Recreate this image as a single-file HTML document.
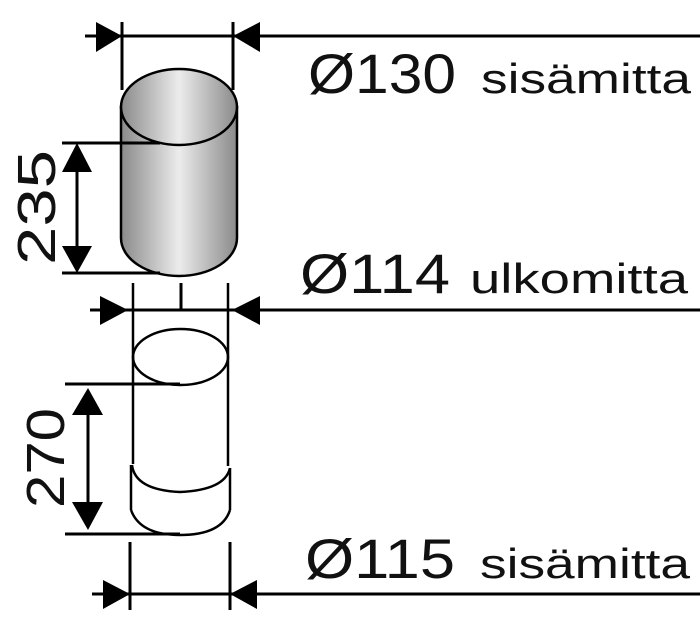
<!DOCTYPE html>
<html><head><meta charset="utf-8"><style>
html,body{margin:0;padding:0;background:#fff}
svg{display:block}
text{font-family:"Liberation Sans",sans-serif;fill:#111}
</style></head><body>
<svg width="700" height="632" viewBox="0 0 700 632" xmlns="http://www.w3.org/2000/svg">
<defs>
<linearGradient id="g" x1="0" x2="1" y1="0" y2="0">
<stop offset="0" stop-color="#8a8a8a"/>
<stop offset="0.5" stop-color="#ececec"/>
<stop offset="1" stop-color="#8a8a8a"/>
</linearGradient>
</defs>
<g stroke="#000" stroke-width="3" fill="none">
<!-- top dim -->
<line x1="85" y1="36" x2="700" y2="36"/>
<line x1="122" y1="22" x2="122" y2="90"/>
<line x1="233" y1="22" x2="233" y2="90"/>
</g>
<polygon points="96,22 122,36 96,52" fill="#000"/>
<polygon points="260,22 233,36 260,52" fill="#000"/>
<!-- cylinder 1 -->
<path d="M121,107 L121,238 A58,38 0 0 0 237,238 L237,107 Z" fill="url(#g)" stroke="#000" stroke-width="2.5"/>
<ellipse cx="179" cy="107" rx="58" ry="38" fill="url(#g)" stroke="#000" stroke-width="2.5"/>
<g stroke="#000" stroke-width="3" fill="none">
<line x1="62" y1="143" x2="160" y2="143"/>
<line x1="62" y1="273" x2="160" y2="273"/>
<line x1="77" y1="165" x2="77" y2="250"/>
</g>
<polygon points="62,172 77,143 92,172" fill="#000"/>
<polygon points="62,246 77,273 92,246" fill="#000"/>
<text x="0" y="0" font-size="54" transform="translate(55,265) rotate(-90)" textLength="115" lengthAdjust="spacingAndGlyphs">235</text>
<text x="308" y="93" font-size="56" textLength="148" lengthAdjust="spacingAndGlyphs">Ø130</text>
<text x="481" y="93" font-size="42" textLength="210" lengthAdjust="spacingAndGlyphs">sisämitta</text>
<!-- second dim -->
<g stroke="#000" stroke-width="3" fill="none">
<line x1="90" y1="310" x2="700" y2="310"/>
<line x1="181" y1="283" x2="181" y2="310"/>
</g>
<polygon points="100,296 128,310 100,325" fill="#000"/>
<polygon points="260,296 232,310 260,325" fill="#000"/>
<text x="300" y="293" font-size="56" textLength="150" lengthAdjust="spacingAndGlyphs">Ø114</text>
<text x="470" y="293" font-size="42" textLength="218" lengthAdjust="spacingAndGlyphs">ulkomitta</text>
<!-- cylinder 2 -->
<g stroke="#000" stroke-width="2.5" fill="none">
<line x1="133" y1="283" x2="133" y2="464"/>
<line x1="228" y1="283" x2="228" y2="466"/>
<ellipse cx="180.5" cy="357" rx="47.5" ry="28"/>
<path d="M132,465 Q135,490 180,492 Q225,490 230,468"/>
<path d="M131,465 L131,510 M230,468 L230,510"/>
<path d="M131,510 Q140,535 180,535 Q222,535 230,510"/>
</g>
<g stroke="#000" stroke-width="3" fill="none">
<line x1="65" y1="384" x2="180" y2="384"/>
<line x1="65" y1="534" x2="180" y2="534"/>
<line x1="88" y1="410" x2="88" y2="510"/>
</g>
<polygon points="72,415 88,388 103,415" fill="#000"/>
<polygon points="72,502 88,530 103,502" fill="#000"/>
<text x="0" y="0" font-size="54" transform="translate(64,508) rotate(-90)" textLength="100" lengthAdjust="spacingAndGlyphs">270</text>
<!-- bottom dim -->
<g stroke="#000" stroke-width="3" fill="none">
<line x1="92" y1="594" x2="700" y2="594"/>
<line x1="130" y1="542" x2="130" y2="610"/>
<line x1="230" y1="542" x2="230" y2="610"/>
</g>
<polygon points="103,580 130,594 103,609" fill="#000"/>
<polygon points="257,580 230,594 257,609" fill="#000"/>
<text x="305" y="578" font-size="56" textLength="150" lengthAdjust="spacingAndGlyphs">Ø115</text>
<text x="480" y="578" font-size="42" textLength="210" lengthAdjust="spacingAndGlyphs">sisämitta</text>
</svg>
</body></html>
